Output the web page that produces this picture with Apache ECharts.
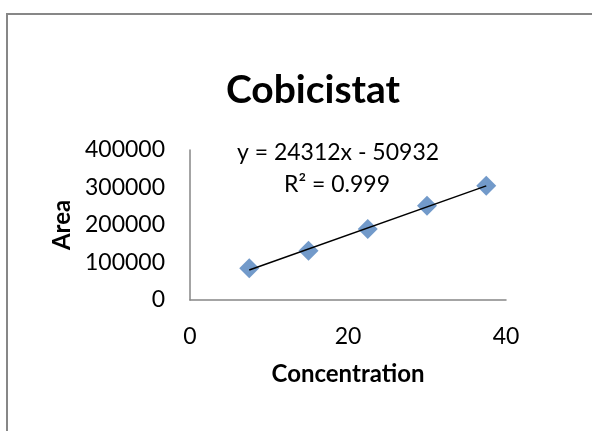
<!DOCTYPE html>
<html lang="en">
<head>
    <meta charset="UTF-8">
    <title>Cobicistat</title>
    <script src="https://cdn.jsdelivr.net/npm/echarts@6.0.0/dist/echarts.min.js"></script>
</head>
<body style="margin:0;background:#fff;">
<div id="main" style="width: 592px;height:431px;"></div>
<script>
    // data
    var concentration = [7.5, 15, 22.5, 30, 37.5];
    var area = [84500, 131500, 189300, 251500, 304800];
    var equationText = ['y = 24312x - 50932', 'R\u00b2 = 0.999'];

    // least squares line through the points, drawn from first to last x
    var n = concentration.length, mx = 0, my = 0;
    for (var i = 0; i < n; i++) { mx += concentration[i] / n; my += area[i] / n; }
    var sxy = 0, sxx = 0;
    for (var i = 0; i < n; i++) {
        sxy += (concentration[i] - mx) * (area[i] - my);
        sxx += (concentration[i] - mx) * (concentration[i] - mx);
    }
    var slope = sxy / sxx, icpt = my - slope * mx;
    var x0 = concentration[0], x1 = concentration[n - 1];
    var trend = [[x0, icpt + slope * x0], [x1, icpt + slope * x1]];

    var font = 'Lato';
    var chart = echarts.init(document.getElementById('main'));
    var option = {
        backgroundColor: '#fff',
        animation: false,
        textStyle: {fontFamily: font, color: '#000'},
        title: {
            text: 'Cobicistat',
            left: 308,
            textAlign: 'center',
            top: 66,
            textStyle: {fontFamily: font, fontSize: 39, fontWeight: 'bold', color: '#000'}
        },
        grid: {left: 190, top: 150, right: 86, bottom: 131},
        xAxis: {
            type: 'value',
            min: 0, max: 40, interval: 20,
            name: 'Concentration',
            nameLocation: 'middle',
            nameGap: 62,
            nameTextStyle: {fontFamily: font, fontSize: 24, fontWeight: 'bold', color: '#000'},
            axisLine: {show: true, lineStyle: {color: '#868686', width: 1.5}},
            axisTick: {show: false},
            splitLine: {show: false},
            axisLabel: {fontFamily: font, fontSize: 23, color: '#000', margin: 25}
        },
        yAxis: {
            type: 'value',
            min: 0, max: 400000, interval: 100000,
            name: 'Area',
            nameLocation: 'middle',
            nameGap: 116,
            nameTextStyle: {fontFamily: font, fontSize: 24, fontWeight: 'bold', color: '#000'},
            axisLine: {show: true, lineStyle: {color: '#868686', width: 1.5}},
            axisTick: {show: false},
            splitLine: {show: false},
            axisLabel: {
                fontFamily: font, fontSize: 23, color: '#000', margin: 25,
                formatter: function (v) { return String(v); }
            }
        },
        graphic: [
            {
                type: 'rect',
                shape: {x: 7, y: 14, width: 620, height: 480},
                style: {fill: 'none', stroke: '#878787', lineWidth: 2},
                silent: true
            },
            {
                type: 'text',
                x: 338, y: 153,
                style: {text: equationText[0], fontFamily: font, fontSize: 23, fill: '#000',
                    align: 'center', verticalAlign: 'middle'}
            },
            {
                type: 'text',
                x: 337, y: 185,
                style: {text: equationText[1], fontFamily: font, fontSize: 23, fill: '#000',
                    align: 'center', verticalAlign: 'middle'}
            }
        ],
        series: [
            {
                type: 'line',
                data: trend,
                symbol: 'none',
                lineStyle: {color: '#000', width: 1.5},
                z: 3
            },
            {
                type: 'scatter',
                data: concentration.map(function (c, i) { return [c, area[i]]; }),
                symbol: 'diamond',
                symbolSize: [20, 20],
                itemStyle: {color: '#4F81BD'},
                z: 2
            }
        ]
    };
    chart.setOption(option);
</script>
</body>
</html>
